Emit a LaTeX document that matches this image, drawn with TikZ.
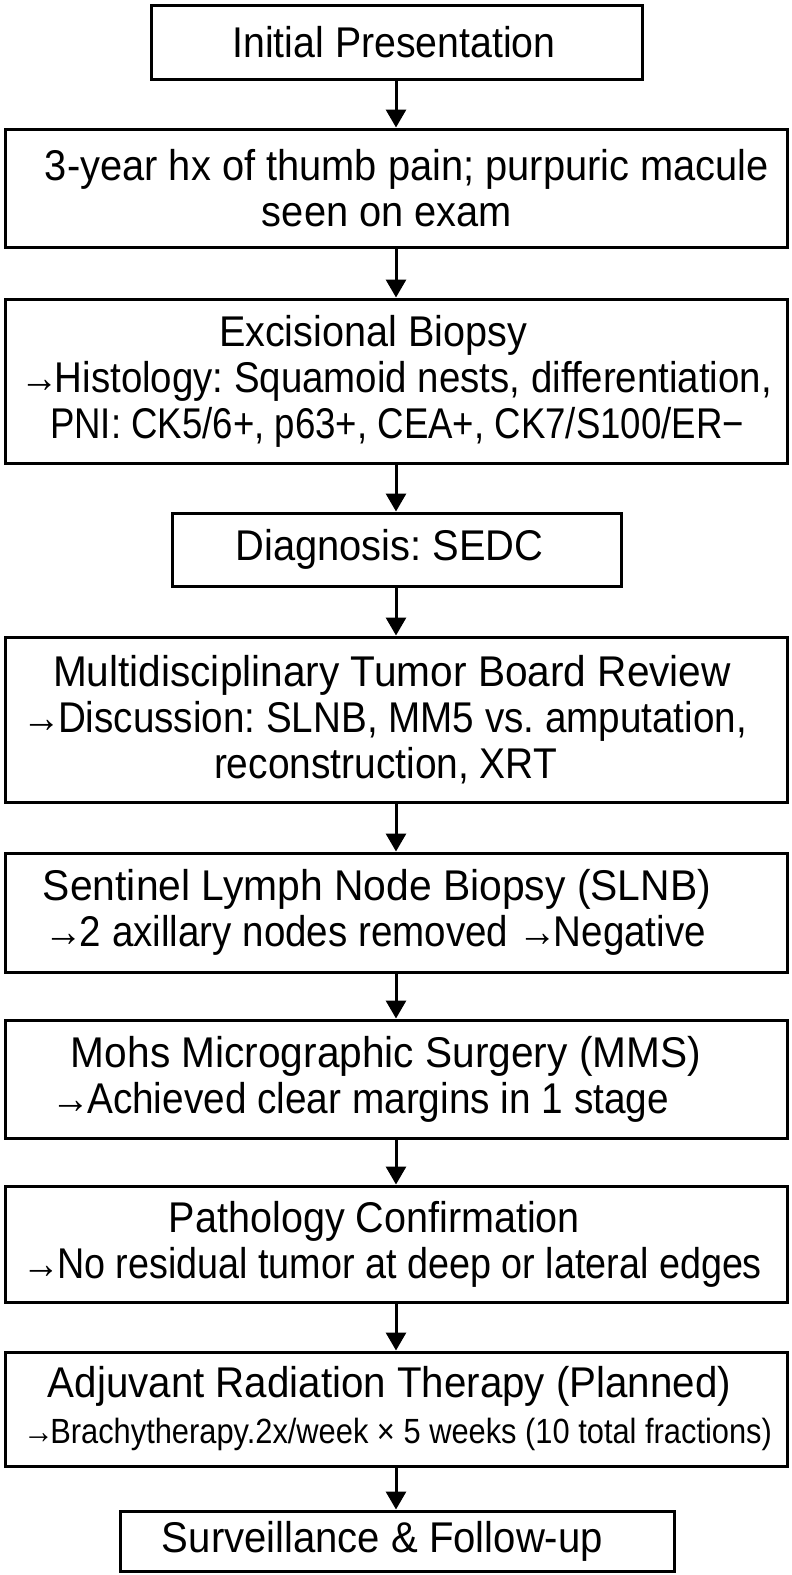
\documentclass[tikz,border=0pt]{standalone}
\usepackage{fontspec}
\setmainfont{Liberation Sans}
\usepackage{graphicx}
\usetikzlibrary{arrows.meta}
% fitted line: [shift]{width}{text}
\newcommand\fl[3][0]{\mbox{\kern#1pt\resizebox{#2pt}{\height}{#3}\kern-#1pt}}
\newcommand\myarr{→\kern-4pt}
\begin{document}
\begin{tikzpicture}[x=1pt,y=-1pt,
  box/.style={draw, line width=3pt, inner sep=0pt, align=center, font=\fontsize{43}{46}\selectfont\frenchspacing},
  wide/.style={box, minimum width=782pt},
  conn/.style={line width=3pt, -{Triangle[width=20pt,length=18pt]}}]
\useasboundingbox[fill=white] (0,0) rectangle (792,1575);
\node[box, minimum width=491pt, minimum height=74pt] (n1) at (396.5,42) {\fl[-2.5]{323}{Initial Presentation}};
\node[wide, minimum height=118pt] (n2) at (396,188) {\fl[11]{724}{3-year hx of thumb pain; purpuric macule}\\\fl[-9]{250}{seen on exam}};
\node[wide, minimum height=164pt] (n3) at (396,381) {\fl[-23]{308}{Excisional Biopsy}\\\fl{752}{\myarr Histology: Squamoid nests, differentiation,}\\\fl[1]{694}{PNI: CK5/6+, p63+, CEA+, CK7/S100/ER−}};
\node[box, minimum width=449pt, minimum height=73pt] (n4) at (396.5,549.5) {\fl[-7]{308}{Diagnosis: SEDC}};
\node[wide, minimum height=165pt] (n5) at (396,719.5) {\fl[-4]{678}{Multidisciplinary Tumor Board Review}\\\fl[-11]{724}{\myarr Discussion: SLNB, MM5 vs. amputation,}\\\fl[-10.5]{343}{reconstruction, XRT}};
\node[wide, minimum height=119pt] (n6) at (396,912.5) {\fl[-19]{668}{Sentinel Lymph Node Biopsy (SLNB)}\\\fl[-20.5]{661}{\myarr 2 axillary nodes removed \myarr Negative}};
\node[wide, minimum height=118pt] (n7) at (396,1079) {\fl[-10]{630}{Mohs Micrographic Surgery (MMS)}\\\fl[-35.5]{617}{\myarr Achieved clear margins in 1 stage}};
\node[wide, minimum height=116pt] (n8) at (396,1244) {\fl[-21.5]{411}{Pathology Confirmation}\\\fl[-3.5]{739}{\myarr No residual tumor at deep or lateral edges}};
\node[wide, minimum height=114pt] (n9) at (396,1409) {\fl[-6.5]{683}{Adjuvant Radiation Therapy (Planned)}\\\fl[1.5]{749}{\fontsize{35}{40}\selectfont \myarr Brachytherapy.2x/week × 5 weeks (10 total fractions)}};
\node[box, minimum width=554pt, minimum height=60pt] (n10) at (397,1541) {\fl[-14.5]{441}{Surveillance \& Follow-up}};
\foreach \a/\b in {n1/n2,n2/n3,n3/n4,n4/n5,n5/n6,n6/n7,n7/n8,n8/n9,n9/n10}
  \draw[conn] (\a.south -| 396,0) -- (\b.north -| 396,0);
\end{tikzpicture}
\end{document}
